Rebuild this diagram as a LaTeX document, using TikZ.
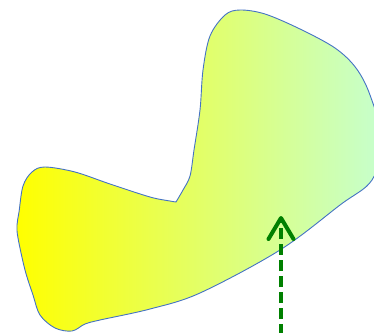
\documentclass[tikz,border=0pt]{standalone}
\usetikzlibrary{arrows.meta}

\definecolor{outlineblue}{RGB}{68,114,196}
\definecolor{mintgreen}{RGB}{198,255,206}
\definecolor{arrowgreen}{RGB}{0,128,0}

\begin{document}
\begin{tikzpicture}[
    x=1pt, y=-1pt,
    region/.style={draw=outlineblue, line width=0.9pt, left color=yellow, right color=mintgreen, shading angle=90},
    arr/.style={-{Straight Barb[length=21pt, width=25pt, line cap=round, line join=round]}, arrowgreen, line width=4pt, dash pattern=on 11pt off 5pt}
]
\useasboundingbox (0,0) rectangle (374,332);
\clip (0,0) rectangle (374,332);

% the region
\path[region] plot[smooth, tension=0.55] coordinates {
    (176,202) (183,190) (190,176) (194,150) (200,110) (203,70)
    (210,36) (225,15) (240,10) (265,14) (300,29) (335,48) (356,68)
    (370,95) (382,140) (372,180) (340,205) (280,250) (200,293)
    (150,309) (100,320) (85,324) (72,331) (55,328) (40,315)
    (33,295) (25,270) (18,238) (17,225) (19,212) (23,186) (32,172)
    (45,167) (75,172) (110,184) (150,197) (170,201) (176,202)
} -- cycle;

% the arrow
\coordinate (arrowstart) at (281,335);
\coordinate (arrowtip) at (281,216);
\draw[arr] (arrowstart) -- (arrowtip);
\end{tikzpicture}
\end{document}
